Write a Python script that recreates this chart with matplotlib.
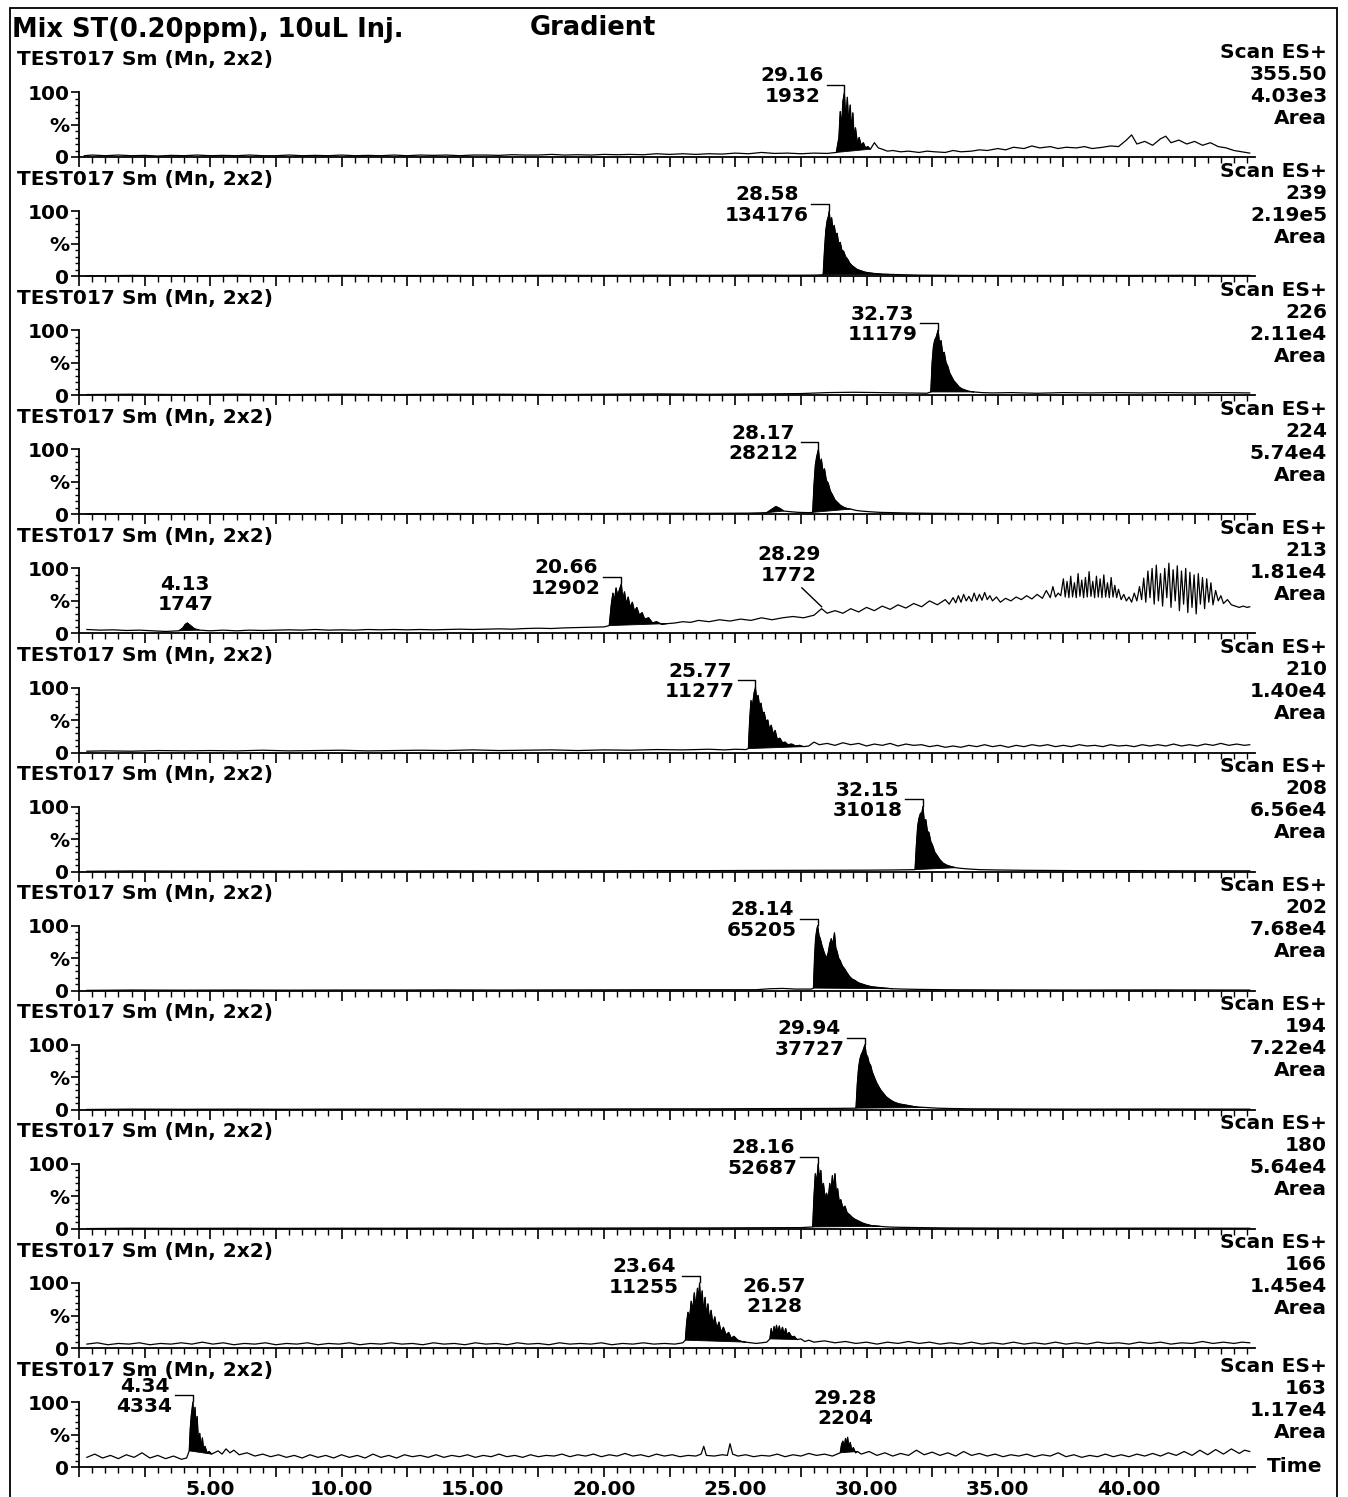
import matplotlib.pyplot as plt
from matplotlib.ticker import MultipleLocator, FixedLocator, FuncFormatter
from matplotlib.patches import Rectangle
import numpy as np

# channel info shown on the right of every trace
masses = ['355.50', '239', '226', '224', '213', '210', '208', '202', '194', '180', '166', '163']
intensities = ['4.03e3', '2.19e5', '2.11e4', '5.74e4', '1.81e4', '1.40e4',
               '6.56e4', '7.68e4', '7.22e4', '5.64e4', '1.45e4', '1.17e4']
run_name = 'TEST017 Sm (Mn, 2x2)'

# chromatograms: (retention time [min], relative intensity [%])
trace_355 = [(0.2, 2), (0.5, 3), (1, 2), (1.5, 3), (2, 2), (2.5, 2.5), (3, 1.5), (3.5, 2.5), (4, 2), (4.5, 3),
             (5, 2), (5.5, 2.5), (6, 2), (6.5, 3), (7, 2), (7.5, 2), (8, 3), (8.5, 2), (9, 2.5), (9.5, 2),
             (10, 3), (10.5, 2), (11, 2.5), (11.5, 2), (12, 3), (12.5, 2), (13, 3), (13.5, 2.5), (14, 3),
             (14.5, 2), (15, 3), (15.5, 3), (16, 2.5), (16.5, 3.5), (17, 3), (17.5, 3), (18, 4), (18.5, 3),
             (19, 3.5), (19.5, 3), (20, 4), (20.5, 3.5), (21, 4), (21.5, 3.5), (22, 5), (22.5, 4), (23, 5),
             (23.5, 4), (24, 5), (24.5, 4.5), (25, 6), (25.5, 5), (26, 7), (26.5, 5.5), (27, 6), (27.5, 5),
             (28, 6), (28.5, 5.5), (28.85, 7), (28.95, 30), (29.0, 70), (29.05, 45), (29.1, 85), (29.16, 100),
             (29.21, 55), (29.27, 92), (29.32, 50), (29.38, 80), (29.43, 40), (29.48, 68), (29.53, 30),
             (29.58, 45), (29.65, 22), (29.72, 30), (29.8, 18), (29.88, 22), (29.96, 14), (30.05, 16),
             (30.15, 12), (30.3, 22), (30.45, 14), (30.6, 12), (30.8, 9), (31, 10), (31.3, 8), (31.6, 9),
             (32, 7), (32.3, 9), (32.6, 8), (33, 7), (33.3, 10), (33.6, 8), (34, 9), (34.3, 11), (34.6, 10),
             (35, 13), (35.3, 11), (35.6, 15), (36, 13), (36.3, 17), (36.6, 14), (37, 16), (37.3, 13),
             (37.6, 15), (38, 14), (38.3, 16), (38.6, 13), (39, 15), (39.3, 17), (39.6, 16), (39.9, 26),
             (40.1, 34), (40.3, 20), (40.6, 24), (40.9, 18), (41.2, 28), (41.4, 32), (41.6, 22), (41.9, 26),
             (42.2, 20), (42.5, 24), (42.8, 18), (43.1, 22), (43.4, 16), (43.7, 14), (44, 10), (44.3, 8),
             (44.6, 6)]

trace_239 = [(0.3, 0.5), (2, 1), (4, 0.5), (6, 1), (8, 0.5), (10, 1), (12, 0.8), (14, 1), (16, 0.8), (18, 1.2),
             (20, 1), (22, 1.3), (24, 1.2), (26, 1.5), (27, 1.3), (28, 1.5), (28.35, 2), (28.4, 40), (28.45, 70),
             (28.5, 85), (28.55, 92), (28.58, 100), (28.62, 82), (28.67, 90), (28.72, 72), (28.77, 78),
             (28.83, 62), (28.88, 66), (28.94, 50), (29.0, 52), (29.06, 40), (29.13, 38), (29.2, 30),
             (29.28, 26), (29.36, 20), (29.45, 16), (29.55, 13), (29.65, 10), (29.8, 8), (29.95, 6), (30.1, 5),
             (30.3, 4), (30.6, 3), (31, 2.5), (31.5, 2), (32, 1.5), (33, 1.2), (34, 1), (36, 1), (38, 1.2),
             (40, 1), (42, 1.2), (44, 1), (44.6, 1)]

trace_226 = [(0.3, 1), (2, 1.5), (4, 1), (6, 1.5), (8, 1), (10, 1.5), (12, 1), (14, 1.5), (16, 1.5), (18, 1),
             (20, 1.5), (22, 2), (24, 1.5), (26, 2), (27.5, 2.5), (28.5, 4), (29.5, 4.5), (30.5, 4), (31.5, 3.5),
             (32.3, 3), (32.45, 5), (32.5, 50), (32.55, 75), (32.6, 85), (32.66, 90), (32.73, 100), (32.78, 80),
             (32.84, 84), (32.9, 65), (32.96, 66), (33.03, 50), (33.1, 44), (33.17, 34), (33.25, 28),
             (33.33, 22), (33.42, 18), (33.52, 13), (33.62, 10), (33.75, 8), (33.9, 6), (34.1, 5), (34.4, 4),
             (34.8, 3.5), (35.5, 4), (36.5, 3), (37.5, 4), (38.5, 3.5), (39.5, 4), (40.5, 3.5), (41.5, 4),
             (42.5, 3.5), (43.5, 4), (44.6, 3.5)]

trace_224 = [(0.3, 0.5), (2, 1), (4, 0.8), (6, 1), (8, 0.8), (10, 1), (12, 1), (14, 1.2), (16, 1), (18, 1.2),
             (20, 1.2), (22, 1.5), (24, 1.5), (25.5, 1.8), (26.2, 2.5), (26.4, 8), (26.55, 12), (26.7, 9),
             (26.85, 5), (27.1, 4), (27.4, 3), (27.8, 2.5), (27.95, 3), (28.0, 45), (28.05, 75), (28.1, 88),
             (28.17, 100), (28.22, 78), (28.28, 85), (28.34, 66), (28.4, 70), (28.47, 52), (28.54, 48),
             (28.62, 36), (28.7, 30), (28.8, 22), (28.9, 18), (29.0, 14), (29.12, 11), (29.25, 9), (29.4, 8),
             (29.6, 6), (29.8, 5), (30.1, 4), (30.5, 3), (31, 2.5), (31.5, 2), (32.5, 1.5), (34, 1.2), (36, 1),
             (38, 1.2), (40, 1), (42, 1.2), (44.6, 1)]

trace_213 = [(0.3, 6), (0.8, 5), (1.3, 5.5), (1.8, 4.5), (2.3, 5), (2.8, 4), (3.3, 3), (3.8, 4), (3.95, 8),
             (4.05, 14), (4.13, 16), (4.25, 12), (4.4, 7), (4.6, 5), (5.0, 4), (5.5, 5), (6, 4), (6.5, 5),
             (7, 4.5), (7.5, 5), (8, 5.5), (8.5, 5), (9, 6), (9.5, 5), (10, 5.5), (10.5, 5), (11, 6), (11.5, 5.5),
             (12, 6), (12.5, 5.5), (13, 6), (13.5, 5.5), (14, 6), (14.5, 6.5), (15, 6), (15.5, 6.5), (16, 7),
             (16.5, 6.5), (17, 7.5), (17.5, 8), (18, 7.5), (18.5, 8.5), (19, 9), (19.5, 9.5), (20.0, 10),
             (20.2, 12), (20.28, 45), (20.34, 62), (20.4, 50), (20.46, 70), (20.52, 58), (20.58, 66),
             (20.66, 76), (20.72, 52), (20.78, 64), (20.85, 45), (20.92, 56), (21.0, 40), (21.08, 48),
             (21.16, 34), (21.25, 40), (21.35, 28), (21.45, 32), (21.55, 22), (21.7, 24), (21.85, 16), (22.0, 18),
             (22.2, 14), (22.4, 15), (22.7, 16), (23.0, 18), (23.3, 17), (23.6, 20), (24.0, 18), (24.4, 21),
             (24.8, 19), (25.2, 22), (25.6, 20), (26.0, 24), (26.4, 21), (26.8, 24), (27.2, 26), (27.6, 24),
             (28.0, 28), (28.29, 38), (28.5, 31), (28.8, 35), (29.1, 31), (29.4, 38), (29.7, 33), (30.0, 40),
             (30.3, 35), (30.6, 42), (30.9, 37), (31.2, 44), (31.5, 39), (31.8, 46), (32.1, 41), (32.4, 50),
             (32.7, 44), (33.0, 52), (33.15, 45), (33.3, 55), (33.4, 47), (33.5, 58), (33.6, 48), (33.7, 60),
             (33.8, 50), (33.9, 57), (34.0, 49), (34.1, 62), (34.2, 50), (34.3, 60), (34.4, 51), (34.5, 63),
             (34.6, 52), (34.7, 58), (34.8, 50), (34.95, 56), (35.1, 48), (35.3, 54), (35.5, 50), (35.7, 56),
             (35.9, 52), (36.1, 58), (36.3, 53), (36.5, 60), (36.7, 54), (36.85, 66), (37.0, 55), (37.1, 72),
             (37.2, 56), (37.3, 62), (37.4, 58), (37.5, 84), (37.57, 56), (37.64, 80), (37.71, 55), (37.78, 88),
             (37.85, 56), (37.92, 78), (37.99, 55), (38.06, 92), (38.13, 57), (38.2, 82), (38.27, 55),
             (38.34, 86), (38.41, 56), (38.48, 95), (38.55, 57), (38.62, 80), (38.69, 55), (38.76, 88),
             (38.83, 56), (38.9, 84), (38.97, 55), (39.04, 90), (39.11, 56), (39.18, 78), (39.25, 55),
             (39.32, 86), (39.39, 56), (39.46, 74), (39.53, 55), (39.6, 68), (39.7, 52), (39.8, 60), (39.9, 50),
             (40.0, 56), (40.1, 48), (40.2, 62), (40.3, 50), (40.4, 72), (40.48, 52), (40.56, 85), (40.64, 48),
             (40.72, 96), (40.8, 55), (40.88, 100), (40.96, 45), (41.04, 105), (41.12, 50), (41.2, 92),
             (41.28, 42), (41.36, 100), (41.44, 55), (41.52, 108), (41.6, 40), (41.68, 98), (41.76, 50),
             (41.84, 104), (41.92, 35), (42.0, 96), (42.08, 45), (42.16, 100), (42.24, 32), (42.32, 94),
             (42.4, 40), (42.48, 90), (42.56, 30), (42.64, 92), (42.72, 45), (42.8, 86), (42.88, 38),
             (42.96, 84), (43.04, 48), (43.12, 78), (43.2, 44), (43.3, 66), (43.4, 50), (43.5, 58), (43.6, 46),
             (43.75, 52), (43.9, 44), (44.05, 42), (44.2, 40), (44.35, 42), (44.5, 40), (44.6, 41)]

trace_210 = [(0.3, 2), (1, 2.5), (2, 2), (3, 3), (4, 2.5), (5, 3), (6, 2.5), (7, 3.5), (8, 2.5), (9, 3),
             (10, 3.5), (11, 2.5), (12, 3), (13, 3.5), (14, 3), (15, 4), (16, 3), (17, 3.5), (18, 4), (19, 3),
             (20, 4), (21, 3.5), (22, 4.5), (23, 4), (24, 5), (24.6, 4), (25, 5), (25.4, 4.5), (25.5, 6),
             (25.55, 50), (25.6, 80), (25.65, 70), (25.72, 92), (25.77, 100), (25.82, 80), (25.87, 88),
             (25.93, 70), (25.98, 76), (26.04, 60), (26.1, 62), (26.17, 48), (26.24, 50), (26.3, 36),
             (26.37, 42), (26.45, 28), (26.52, 34), (26.6, 20), (26.7, 22), (26.8, 15), (26.9, 16), (27.0, 12),
             (27.15, 13), (27.3, 10), (27.45, 11), (27.6, 9), (27.8, 10), (28.0, 16), (28.2, 12), (28.5, 14),
             (28.8, 11), (29.1, 15), (29.4, 12), (29.7, 14), (30.0, 10), (30.3, 13), (30.6, 11), (30.9, 14),
             (31.2, 10), (31.5, 13), (31.8, 11), (32.1, 12), (32.4, 9), (32.7, 11), (33.0, 8), (33.3, 10),
             (33.6, 8), (33.9, 11), (34.2, 9), (34.5, 12), (34.8, 9), (35.1, 11), (35.4, 8), (35.7, 11),
             (36.0, 9), (36.3, 12), (36.6, 10), (36.9, 12), (37.2, 9), (37.5, 11), (37.8, 9), (38.1, 12),
             (38.4, 10), (38.7, 11), (39.0, 9), (39.3, 12), (39.6, 10), (39.9, 11), (40.2, 9), (40.5, 12),
             (40.8, 10), (41.1, 12), (41.4, 10), (41.7, 13), (42.0, 10), (42.3, 12), (42.6, 10), (42.9, 13),
             (43.2, 11), (43.5, 14), (43.8, 11), (44.1, 13), (44.4, 11), (44.6, 12)]

trace_208 = [(0.3, 0.5), (2, 1), (4, 0.8), (6, 1), (8, 0.8), (10, 1), (12, 1), (14, 1.2), (16, 1), (18, 1.2),
             (20, 1.3), (22, 1.5), (24, 1.5), (26, 1.8), (28, 2), (30, 2.2), (31, 2.5), (31.85, 3), (31.9, 40),
             (31.95, 70), (32.0, 82), (32.06, 90), (32.1, 88), (32.15, 100), (32.2, 78), (32.26, 80),
             (32.32, 62), (32.38, 60), (32.45, 46), (32.52, 40), (32.6, 30), (32.7, 24), (32.8, 18), (32.92, 13),
             (33.05, 10), (33.2, 8), (33.4, 6), (33.6, 5), (33.9, 4), (34.3, 3), (35, 2.5), (36, 2), (38, 1.5),
             (40, 1.5), (42, 1.2), (44.6, 1.2)]

trace_202 = [(0.3, 0.5), (2, 1), (4, 0.8), (6, 1), (8, 0.8), (10, 1), (12, 1), (14, 1.2), (16, 1), (18, 1.2),
             (20, 1.3), (22, 1.5), (24, 1.5), (25.8, 1.5), (26.3, 3), (26.8, 3.5), (27.3, 2.5), (27.9, 2.5),
             (27.98, 4), (28.02, 50), (28.06, 80), (28.1, 92), (28.14, 100), (28.19, 85), (28.24, 80),
             (28.3, 70), (28.36, 62), (28.42, 55), (28.48, 50), (28.54, 58), (28.6, 72), (28.66, 80),
             (28.72, 70), (28.78, 89), (28.83, 66), (28.88, 60), (28.94, 50), (29.0, 46), (29.08, 38),
             (29.16, 34), (29.25, 28), (29.35, 22), (29.45, 18), (29.55, 16), (29.7, 12), (29.85, 10), (30.0, 8),
             (30.2, 6), (30.45, 5), (30.7, 4), (31.0, 3), (31.4, 2.5), (32, 2), (33, 1.5), (35, 1.2), (38, 1),
             (41, 1.2), (44.6, 1)]

trace_194 = [(0.3, 0.5), (2, 1), (4, 0.8), (6, 1), (8, 0.8), (10, 1), (12, 1), (14, 1.2), (16, 1), (18, 1.2),
             (20, 1.3), (22, 1.5), (24, 1.5), (26, 1.8), (28, 2), (29, 2.2), (29.6, 2.5), (29.65, 40),
             (29.7, 65), (29.75, 78), (29.8, 85), (29.86, 90), (29.9, 95), (29.94, 100), (29.99, 85),
             (30.04, 82), (30.1, 72), (30.16, 68), (30.22, 58), (30.3, 50), (30.38, 42), (30.46, 36),
             (30.55, 30), (30.65, 25), (30.75, 20), (30.85, 17), (30.95, 14), (31.1, 11), (31.25, 9), (31.4, 8),
             (31.6, 6.5), (31.8, 5), (32.0, 4), (32.3, 3.5), (32.7, 2.5), (33.2, 2), (34, 1.5), (36, 1.2),
             (38, 1), (41, 1.2), (44.6, 1)]

trace_180 = [(0.3, 0.5), (2, 1), (4, 0.8), (6, 1), (8, 0.8), (10, 1), (12, 1), (14, 1.2), (16, 1), (18, 1.2),
             (20, 1.3), (22, 1.5), (24, 1.5), (26, 1.8), (27.5, 2), (27.95, 3), (28.0, 50), (28.05, 85),
             (28.1, 70), (28.16, 100), (28.21, 75), (28.26, 90), (28.31, 60), (28.36, 70), (28.42, 48),
             (28.48, 55), (28.54, 45), (28.6, 70), (28.65, 58), (28.7, 82), (28.75, 62), (28.8, 85), (28.85, 55),
             (28.9, 62), (28.96, 42), (29.02, 45), (29.1, 32), (29.18, 35), (29.26, 25), (29.35, 22),
             (29.45, 18), (29.55, 15), (29.7, 12), (29.85, 9), (30.0, 7), (30.2, 5), (30.5, 4), (30.8, 3),
             (31.2, 2.5), (32, 2), (33, 1.5), (35, 1.2), (38, 1), (41, 1.2), (44.6, 1)]

trace_166 = [(0.3, 6), (0.7, 8), (1.1, 5), (1.5, 7), (1.9, 6), (2.3, 8), (2.7, 5), (3.1, 7), (3.5, 6), (3.9, 8),
             (4.3, 6), (4.7, 9), (5.1, 6), (5.5, 8), (5.9, 5), (6.3, 7), (6.7, 6), (7.1, 8), (7.5, 5), (7.9, 7),
             (8.3, 6), (8.7, 8), (9.1, 5), (9.5, 7), (9.9, 6), (10.3, 8), (10.7, 5), (11.1, 7), (11.5, 6),
             (11.9, 8), (12.3, 6), (12.7, 7), (13.1, 5), (13.5, 8), (13.9, 6), (14.3, 7), (14.7, 5), (15.1, 8),
             (15.5, 6), (15.9, 7), (16.3, 5), (16.7, 8), (17.1, 6), (17.5, 7), (17.9, 5), (18.3, 8), (18.7, 6),
             (19.1, 7), (19.5, 6), (19.9, 8), (20.3, 5), (20.7, 7), (21.1, 6), (21.5, 8), (21.9, 6), (22.3, 7),
             (22.7, 6), (23.0, 8), (23.1, 12), (23.15, 40), (23.2, 55), (23.26, 45), (23.32, 72), (23.38, 58),
             (23.44, 85), (23.5, 62), (23.56, 92), (23.6, 70), (23.64, 100), (23.69, 66), (23.74, 88),
             (23.79, 55), (23.85, 78), (23.9, 50), (23.96, 68), (24.02, 42), (24.08, 58), (24.15, 36),
             (24.22, 48), (24.3, 30), (24.38, 40), (24.46, 24), (24.55, 32), (24.65, 20), (24.75, 24),
             (24.85, 15), (24.95, 18), (25.1, 12), (25.25, 10), (25.4, 9), (25.6, 8), (25.8, 7), (26.0, 8),
             (26.2, 9), (26.32, 14), (26.37, 30), (26.42, 18), (26.48, 33), (26.53, 22), (26.57, 35),
             (26.62, 24), (26.68, 34), (26.73, 22), (26.8, 32), (26.86, 20), (26.92, 30), (26.98, 20),
             (27.05, 24), (27.15, 17), (27.25, 18), (27.35, 13), (27.5, 14), (27.65, 10), (27.8, 12), (28.0, 9),
             (28.4, 11), (28.8, 8), (29.2, 10), (29.6, 7), (30.0, 9), (30.4, 6), (30.8, 9), (31.2, 7), (31.6, 10),
             (32.0, 7), (32.4, 9), (32.8, 6), (33.2, 8), (33.6, 6), (34.0, 9), (34.4, 6), (34.8, 8), (35.2, 6),
             (35.6, 9), (36.0, 6), (36.4, 8), (36.8, 6), (37.2, 9), (37.6, 6), (38.0, 8), (38.4, 6), (38.8, 9),
             (39.2, 7), (39.6, 8), (40.0, 6), (40.4, 9), (40.8, 7), (41.2, 9), (41.6, 6), (42.0, 8), (42.4, 7),
             (42.8, 10), (43.2, 7), (43.6, 9), (44.0, 7), (44.3, 9), (44.6, 8)]

trace_163 = [(0.3, 15), (0.6, 20), (0.9, 14), (1.2, 18), (1.5, 13), (1.8, 19), (2.1, 15), (2.4, 22), (2.7, 14),
             (3.0, 18), (3.3, 13), (3.6, 17), (3.9, 12), (4.1, 14), (4.2, 25), (4.24, 60), (4.28, 80), (4.31, 90),
             (4.34, 100), (4.38, 70), (4.42, 92), (4.46, 60), (4.5, 78), (4.55, 40), (4.6, 52), (4.65, 30),
             (4.7, 45), (4.75, 26), (4.8, 32), (4.88, 22), (4.96, 24), (5.05, 20), (5.15, 22), (5.3, 25),
             (5.45, 20), (5.6, 28), (5.75, 22), (5.9, 26), (6.1, 19), (6.4, 22), (6.7, 17), (7.0, 20), (7.3, 16),
             (7.6, 19), (7.9, 15), (8.2, 18), (8.5, 14), (8.8, 19), (9.1, 15), (9.4, 18), (9.7, 14), (10.0, 19),
             (10.3, 15), (10.6, 18), (10.9, 14), (11.2, 20), (11.5, 15), (11.8, 18), (12.1, 14), (12.4, 19),
             (12.7, 16), (13.0, 18), (13.3, 15), (13.6, 19), (13.9, 15), (14.2, 18), (14.5, 16), (14.8, 19),
             (15.1, 15), (15.4, 18), (15.7, 16), (16.0, 20), (16.3, 16), (16.6, 18), (16.9, 15), (17.2, 19),
             (17.5, 16), (17.8, 18), (18.1, 17), (18.4, 20), (18.7, 16), (19.0, 19), (19.3, 17), (19.6, 20),
             (19.9, 16), (20.2, 19), (20.5, 17), (20.8, 21), (21.1, 17), (21.4, 19), (21.7, 16), (22.0, 20),
             (22.3, 17), (22.6, 19), (22.9, 16), (23.2, 18), (23.5, 17), (23.7, 20), (23.8, 32), (23.9, 18),
             (24.2, 17), (24.5, 19), (24.7, 18), (24.8, 36), (24.9, 20), (25.1, 17), (25.4, 19), (25.7, 16),
             (26.0, 18), (26.3, 17), (26.6, 20), (26.9, 16), (27.2, 19), (27.5, 17), (27.8, 21), (28.1, 18),
             (28.4, 20), (28.7, 17), (29.0, 22), (29.05, 35), (29.1, 40), (29.15, 30), (29.2, 44), (29.24, 34),
             (29.28, 46), (29.33, 30), (29.38, 38), (29.44, 26), (29.5, 30), (29.58, 22), (29.66, 24),
             (29.8, 20), (30.1, 24), (30.4, 18), (30.7, 22), (31.0, 17), (31.3, 21), (31.6, 18), (31.9, 26),
             (32.2, 19), (32.5, 23), (32.8, 18), (33.1, 22), (33.4, 17), (33.7, 24), (34.0, 18), (34.3, 21),
             (34.6, 17), (34.9, 20), (35.2, 16), (35.5, 19), (35.8, 17), (36.1, 20), (36.4, 16), (36.7, 19),
             (37.0, 17), (37.3, 22), (37.6, 16), (37.9, 19), (38.2, 15), (38.5, 18), (38.8, 16), (39.1, 20),
             (39.4, 16), (39.7, 19), (40.0, 16), (40.3, 20), (40.6, 17), (40.9, 21), (41.2, 17), (41.5, 22),
             (41.8, 18), (42.1, 24), (42.4, 18), (42.7, 26), (43.0, 19), (43.3, 27), (43.6, 20), (43.9, 28),
             (44.2, 21), (44.4, 26), (44.6, 24)]

traces = [trace_355, trace_239, trace_226, trace_224, trace_213, trace_210,
          trace_208, trace_202, trace_194, trace_180, trace_166, trace_163]

# integrated windows (start, end) per trace; each starts and ends on a baseline point
windows = [[(28.85, 30.15)], [(28.35, 31.0)], [(32.45, 34.1)], [(26.2, 26.85), (27.95, 29.4)],
           [(3.8, 4.6), (20.2, 22.4)], [(25.5, 27.6)], [(31.85, 33.4)], [(27.98, 31.0)],
           [(29.6, 32.3)], [(27.95, 30.5)], [(23.1, 25.4), (26.32, 27.35)], [(4.2, 5.05), (29.0, 29.66)]]

# labelled peaks: (retention time, area, label style)
peaks = [[(29.16, '1932', 'bracket')],
         [(28.58, '134176', 'bracket')],
         [(32.73, '11179', 'bracket')],
         [(28.17, '28212', 'bracket')],
         [(4.13, '1747', 'above'), (20.66, '12902', 'bracket'), (28.29, '1772', 'leader')],
         [(25.77, '11277', 'bracket')],
         [(32.15, '31018', 'bracket')],
         [(28.14, '65205', 'bracket')],
         [(29.94, '37727', 'bracket')],
         [(28.16, '52687', 'bracket')],
         [(23.64, '11255', 'bracket'), (26.57, '2128', 'above')],
         [(4.34, '4334', 'bracket'), (29.28, '2204', 'above')]]

W, H = 1348, 1497
FS = 14.5
plt.rcParams['font.family'] = ['DejaVu Sans']
plt.rcParams['font.weight'] = 'bold'

fig = plt.figure(figsize=(W / 100, H / 100), dpi=100)
fig.patch.set_facecolor('white')


def fx(px):
    return px / W


def fy(py):
    return 1 - py / H


# page frame
fig.patches.append(Rectangle((fx(10), -0.02), fx(1337) - fx(10), fy(8) + 0.02,
                             transform=fig.transFigure, fill=False, lw=1.3, color='k'))
fig.text(fx(12), fy(30), 'Mix ST(0.20ppm), 10uL Inj.', fontsize=18.5, va='center')
fig.text(fx(530), fy(28), 'Gradient', fontsize=18.5, va='center')

x_left, x_right = 79, 1255
for i, pts in enumerate(traces):
    y0 = 157 + 119.1 * i
    ax = fig.add_axes([fx(x_left), fy(y0), fx(x_right) - fx(x_left), 65 / H])
    t, y = np.array(pts).T

    ax.plot(t, y, color='k', lw=0.9, clip_on=False)
    for a, b in windows[i]:
        m = (t >= a - 1e-6) & (t <= b + 1e-6)
        ax.fill(t[m], y[m], color='k', lw=0.6, clip_on=False)

    for rt, area, style in peaks[i]:
        h = y[np.argmin(np.abs(t - rt))]
        label = f'{rt:.2f}\n{area}'
        if style == 'bracket':
            ax.text(rt - 0.78, h + 9, label, ha='right', va='center', ma='center',
                    fontsize=FS, linespacing=1.1)
            ax.plot([rt - 0.68, rt, rt], [h + 11, h + 11, h + 1], color='k', lw=1.0, clip_on=False)
        elif style == 'leader':
            ax.text(rt - 1.25, h + 67, label, ha='center', va='center', ma='center',
                    fontsize=FS, linespacing=1.1)
            ax.plot([rt - 0.75, rt], [h + 32, h + 3], color='k', lw=1.0, clip_on=False)
        else:
            ax.text(rt - 0.08, h + 44, label, ha='center', va='center', ma='center',
                    fontsize=FS, linespacing=1.1)

    ax.set_xlim(0, 44.8)
    ax.set_ylim(0, 100)
    ax.patch.set_alpha(0)
    for s in ['top', 'right']:
        ax.spines[s].set_visible(False)
    ax.spines['left'].set_linewidth(1.3)
    ax.spines['bottom'].set_linewidth(1.3)

    ax.xaxis.set_major_locator(MultipleLocator(2.5))
    ax.xaxis.set_minor_locator(MultipleLocator(0.5))
    ax.tick_params(axis='x', which='major', direction='out', length=7, width=1.2, labelsize=FS, pad=2)
    ax.tick_params(axis='x', which='minor', direction='out', length=4, width=1.0)
    if i == len(traces) - 1:
        ax.xaxis.set_major_formatter(FuncFormatter(
            lambda v, _: f'{v:.2f}' if v > 0 and abs(v % 5) < 1e-6 else ''))
    else:
        ax.set_xticklabels([])

    ax.yaxis.set_major_locator(FixedLocator([0, 50, 100]))
    ax.yaxis.set_minor_locator(MultipleLocator(10))
    ax.set_yticklabels(['0', '%', '100'])
    ax.tick_params(axis='y', which='major', direction='out', length=6, width=1.2, labelsize=FS, pad=1)
    ax.tick_params(axis='y', which='minor', direction='out', length=3, width=1.0)

    # run name and channel description
    fig.text(fx(17), fy(y0 - 97), run_name, fontsize=FS, va='center')
    for off, s in zip([105, 83, 61, 39], ['Scan ES+', masses[i], intensities[i], 'Area']):
        fig.text(fx(1327), fy(y0 - off + (4 if i == len(traces) - 1 else 0)), s,
                 fontsize=FS, ha='right', va='center')

fig.text(fx(1322), fy(1466), 'Time', fontsize=FS, ha='right', va='center')

fig.savefig('out.png', dpi=100, facecolor='white')
